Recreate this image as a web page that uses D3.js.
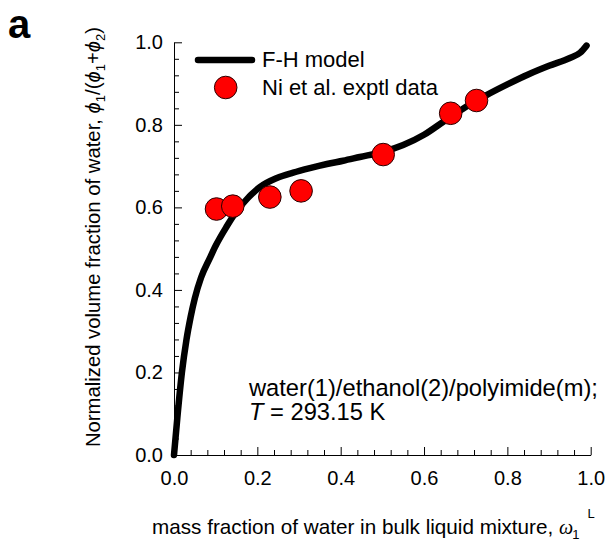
<!DOCTYPE html>
<html>
<head>
<meta charset="utf-8">
<script src="https://cdn.jsdelivr.net/npm/d3@7"></script>
<style>
  html, body { margin: 0; padding: 0; background: #fff; }
  svg { display: block; font-family: Arial, "Liberation Sans", sans-serif; }
</style>
</head>
<body>
<svg id="chart" width="616" height="544"></svg>
<script>
// Flory-Huggins model curve (mass fraction of water vs normalized volume fraction)
const modelX = [0, 0.008, 0.019, 0.03, 0.04, 0.05, 0.065, 0.086, 0.10, 0.126, 0.145, 0.166, 0.206, 0.247, 0.286, 0.326, 0.367, 0.406, 0.446, 0.50, 0.55, 0.60, 0.65, 0.70, 0.75, 0.80, 0.85, 0.90, 0.95, 0.975, 0.99];
const modelY = [0, 0.09, 0.20, 0.28, 0.335, 0.38, 0.43, 0.477, 0.507, 0.553, 0.583, 0.61, 0.649, 0.671, 0.684, 0.695, 0.705, 0.713, 0.722, 0.734, 0.751, 0.776, 0.810, 0.843, 0.872, 0.898, 0.922, 0.943, 0.962, 0.975, 0.992];

// Experimental data (Ni et al.)
const expX = [0.102, 0.141, 0.230, 0.305, 0.502, 0.664, 0.726];
const expY = [0.596, 0.603, 0.625, 0.640, 0.728, 0.828, 0.859];

const majorTicks = [0, 0.2, 0.4, 0.6, 0.8, 1.0];
const minorTicks = [0.04, 0.08, 0.12, 0.16, 0.24, 0.28, 0.32, 0.36, 0.44, 0.48, 0.52, 0.56, 0.64, 0.68, 0.72, 0.76, 0.84, 0.88, 0.92, 0.96];

const legendLabels = ["F-H model", "Ni et al. exptl data"];

const svg = d3.select("#chart");

const x = d3.scaleLinear().domain([0, 1]).range([174, 590.7]);
const y = d3.scaleLinear().domain([0, 1]).range([455, 42.3]);

const fmt = d3.format(".1f");

// Bottom axis: ticks point inward (up)
const gx = svg.append("g").attr("transform", `translate(0,${y(0)})`);
gx.call(d3.axisBottom(x).tickValues(majorTicks).tickFormat(fmt).tickSize(-8).tickSizeOuter(0).tickPadding(16));
const gxm = svg.append("g").attr("transform", `translate(0,${y(0)})`);
gxm.call(d3.axisBottom(x).tickValues(minorTicks).tickFormat("").tickSize(-5).tickSizeOuter(0));
gxm.select(".domain").remove();

// Left axis: ticks point inward (right)
const gy = svg.append("g").attr("transform", `translate(${x(0)},0)`);
gy.call(d3.axisLeft(y).tickValues(majorTicks).tickFormat(fmt).tickSize(-8).tickSizeOuter(0).tickPadding(11));
const gym = svg.append("g").attr("transform", `translate(${x(0)},0)`);
gym.call(d3.axisLeft(y).tickValues(minorTicks).tickFormat("").tickSize(-5).tickSizeOuter(0));
gym.select(".domain").remove();

svg.selectAll(".tick text")
  .attr("font-size", 20)
  .attr("font-family", "Arial, 'Liberation Sans', sans-serif")
  .attr("fill", "#000");
svg.selectAll(".domain, .tick line").attr("stroke", "#000").attr("stroke-width", 1);

// Model curve
const modelData = modelX.map((v, i) => [v, modelY[i]]);
const line = d3.line()
  .x(d => x(d[0]))
  .y(d => y(d[1]))
  .curve(d3.curveMonotoneX);

svg.append("path")
  .datum(modelData)
  .attr("d", line)
  .attr("fill", "none")
  .attr("stroke", "#000")
  .attr("stroke-width", 6.5)
  .attr("stroke-linecap", "round")
  .attr("stroke-linejoin", "round");

// Experimental points
const expData = expX.map((v, i) => [v, expY[i]]);
svg.append("g").selectAll("circle")
  .data(expData)
  .join("circle")
  .attr("cx", d => x(d[0]))
  .attr("cy", d => y(d[1]))
  .attr("r", 11.3)
  .attr("fill", "#ff0000")
  .attr("stroke", "#2a0000")
  .attr("stroke-width", 1);

// Legend
const lg = svg.append("g");
lg.append("line")
  .attr("x1", 198).attr("x2", 252).attr("y1", 60).attr("y2", 60)
  .attr("stroke", "#000").attr("stroke-width", 6.5).attr("stroke-linecap", "round");
lg.append("text").attr("x", 262).attr("y", 67).attr("font-size", 22).text(legendLabels[0]);
lg.append("circle")
  .attr("cx", 225.7).attr("cy", 87.5).attr("r", 11.3)
  .attr("fill", "#ff0000").attr("stroke", "#2a0000").attr("stroke-width", 1);
lg.append("text").attr("x", 262).attr("y", 95).attr("font-size", 22).text(legendLabels[1]);

// System annotation
const ann = svg.append("text").attr("font-size", 23.7).attr("fill", "#000");
ann.append("tspan").attr("x", 249).attr("y", 396).text("water(1)/ethanol(2)/polyimide(m);");
const l2 = ann.append("tspan").attr("x", 249).attr("y", 420);
l2.append("tspan").attr("font-style", "italic").text("T");
l2.append("tspan").text(" = 293.15 K");

// Panel letter
svg.append("text").attr("x", 8).attr("y", 38)
  .attr("font-size", 40).attr("font-weight", "bold").text("a");

// X axis title
const xt = svg.append("text").attr("x", 152).attr("y", 534).attr("font-size", 20.7);
xt.append("tspan").text("mass fraction of water in bulk liquid mixture, ");
xt.append("tspan").attr("font-style", "italic").attr("font-family", "'Liberation Serif', serif").attr("font-size", 20).text("ω");
xt.append("tspan").attr("font-size", 13).attr("dy", 5).attr("dx", -1).text("1");
xt.append("tspan").attr("font-size", 13).attr("dy", -21).attr("dx", 8).text("L");

// Y axis title
const yt = svg.append("text")
  .attr("transform", "translate(100,237) rotate(-90)")
  .attr("text-anchor", "middle")
  .attr("font-size", 20.3);
yt.append("tspan").text("Normalized volume fraction of water, ");
yt.append("tspan").attr("font-style", "italic").text("ϕ");
yt.append("tspan").attr("font-size", 13).attr("dy", 5).text("1");
yt.append("tspan").attr("dy", -5).text("/(");
yt.append("tspan").attr("font-style", "italic").text("ϕ");
yt.append("tspan").attr("font-size", 13).attr("dy", 5).text("1");
yt.append("tspan").attr("dy", -5).text("+");
yt.append("tspan").attr("font-style", "italic").text("ϕ");
yt.append("tspan").attr("font-size", 13).attr("dy", 5).text("2");
yt.append("tspan").attr("dy", -5).text(")");
</script>
</body>
</html>
